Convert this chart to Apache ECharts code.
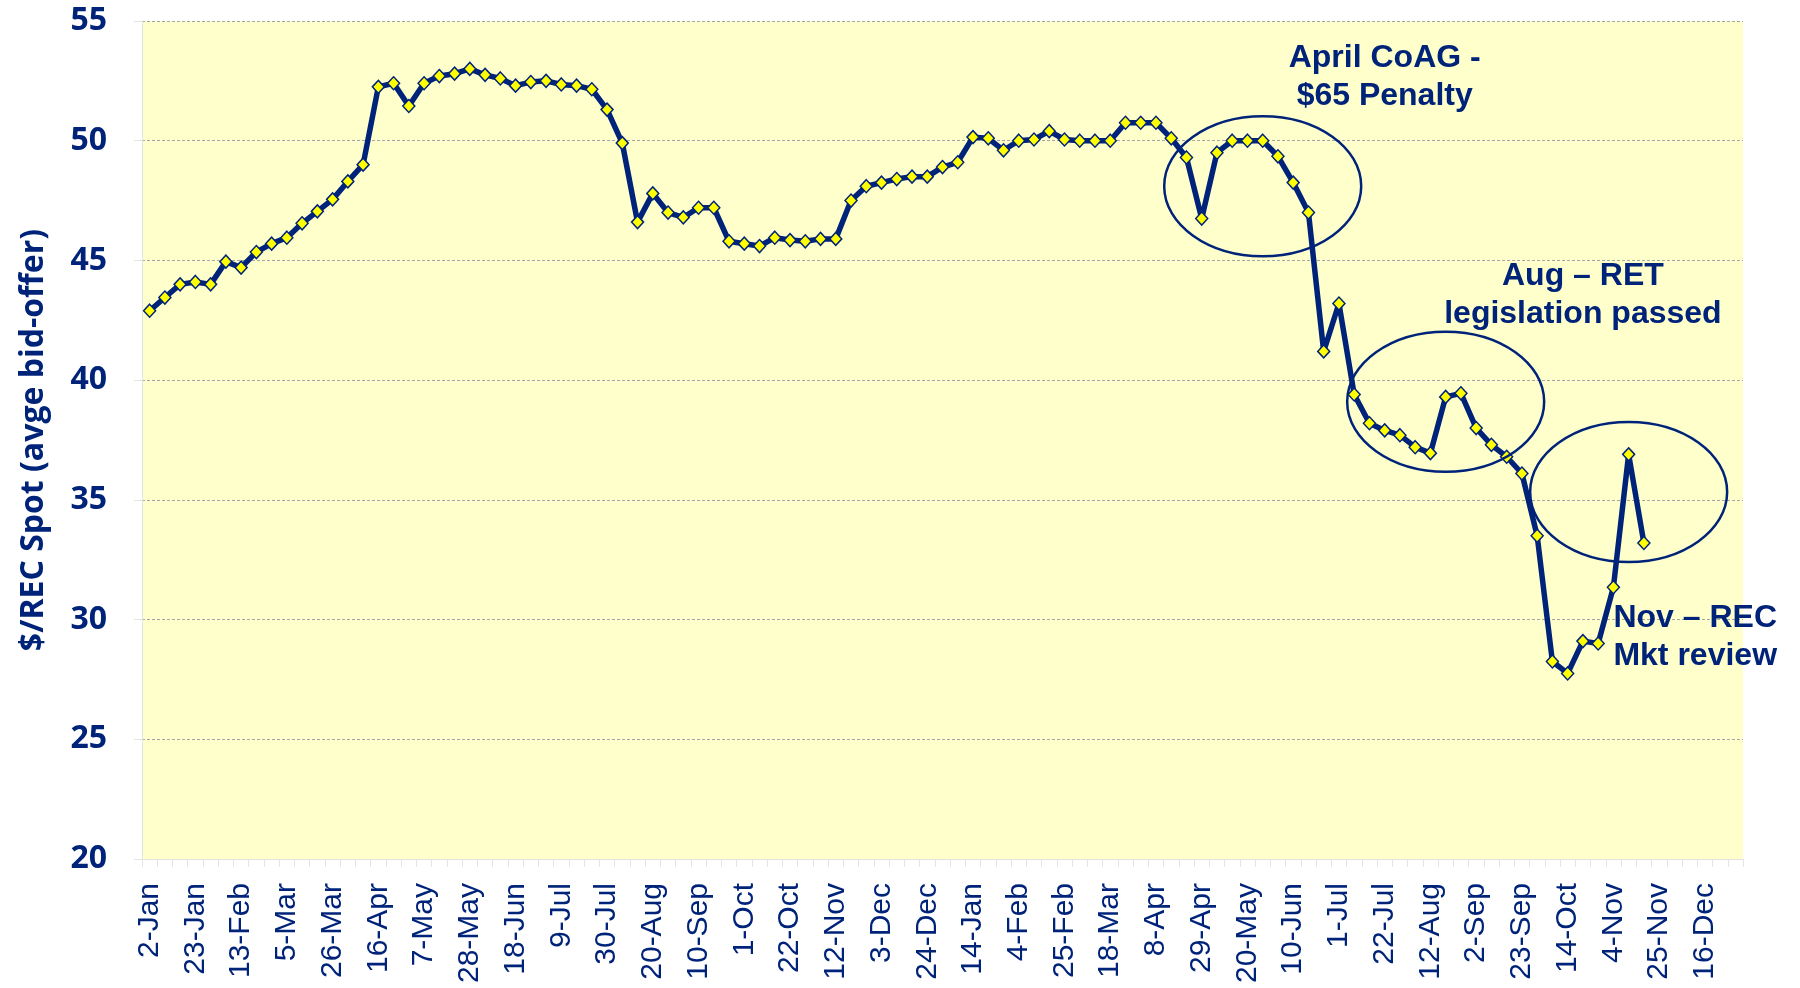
<!DOCTYPE html>
<html>
<head>
<meta charset="utf-8">
<script src="https://cdn.jsdelivr.net/npm/echarts@6/dist/echarts.min.js"></script>
<style>
    html, body { margin: 0; padding: 0; background: #ffffff; }
    #chart { width: 1800px; height: 988px; }
</style>
</head>
<body>
<div id="chart"></div>
<script>
// weekly categories, 2-Jan (2008) to 30-Dec (2009)
const weeks = [
    "2-Jan", "9-Jan", "16-Jan", "23-Jan", "30-Jan", "6-Feb", "13-Feb", "20-Feb", "27-Feb",
    "5-Mar", "12-Mar", "19-Mar", "26-Mar", "2-Apr", "9-Apr", "16-Apr", "23-Apr", "30-Apr",
    "7-May", "14-May", "21-May", "28-May", "4-Jun", "11-Jun", "18-Jun", "25-Jun",
    "2-Jul", "9-Jul", "16-Jul", "23-Jul", "30-Jul", "6-Aug", "13-Aug", "20-Aug", "27-Aug",
    "3-Sep", "10-Sep", "17-Sep", "24-Sep", "1-Oct", "8-Oct", "15-Oct", "22-Oct", "29-Oct",
    "5-Nov", "12-Nov", "19-Nov", "26-Nov", "3-Dec", "10-Dec", "17-Dec", "24-Dec", "31-Dec",
    "7-Jan", "14-Jan", "21-Jan", "28-Jan", "4-Feb", "11-Feb", "18-Feb", "25-Feb",
    "4-Mar", "11-Mar", "18-Mar", "25-Mar", "1-Apr", "8-Apr", "15-Apr", "22-Apr", "29-Apr",
    "6-May", "13-May", "20-May", "27-May", "3-Jun", "10-Jun", "17-Jun", "24-Jun",
    "1-Jul", "8-Jul", "15-Jul", "22-Jul", "29-Jul", "5-Aug", "12-Aug", "19-Aug", "26-Aug",
    "2-Sep", "9-Sep", "16-Sep", "23-Sep", "30-Sep", "7-Oct", "14-Oct", "21-Oct", "28-Oct",
    "4-Nov", "11-Nov", "18-Nov", "25-Nov", "2-Dec", "9-Dec", "16-Dec", "23-Dec", "30-Dec"
];

// $/REC spot price, average of bid and offer
const spot = [
    42.9, 43.45, 44.0, 44.1, 44.0, 44.95, 44.7, 45.35, 45.7, 45.95,
    46.55, 47.05, 47.55, 48.3, 49.0, 52.25, 52.4, 51.45, 52.4, 52.7,
    52.8, 53.0, 52.75, 52.6, 52.3, 52.45, 52.5, 52.35, 52.3, 52.15,
    51.3, 49.9, 46.6, 47.8, 47.0, 46.8, 47.2, 47.2, 45.8, 45.7,
    45.6, 45.95, 45.85, 45.8, 45.9, 45.9, 47.5, 48.1, 48.25, 48.4,
    48.5, 48.5, 48.9, 49.1, 50.15, 50.1, 49.6, 50.0, 50.05, 50.4,
    50.05, 50.0, 50.0, 50.0, 50.75, 50.75, 50.75, 50.1, 49.3, 46.75,
    49.5, 50.0, 50.0, 50.0, 49.35, 48.25, 47.0, 41.2, 43.2, 39.4,
    38.2, 37.9, 37.7, 37.2, 36.95, 39.3, 39.45, 38.0, 37.3, 36.8,
    36.1, 33.5, 28.25, 27.75, 29.1, 29.0, 31.35, 36.9, 33.2
];

const yTicks = [20, 25, 30, 35, 40, 45, 50, 55];

// annotation texts and the [week index, price] they sit on
const notes = [
    { text: "April CoAG -\n$65 Penalty", at: [80.7, 52.67], align: "center" },
    { text: "Aug \u2013 RET\nlegislation passed", at: [94.0, 43.56], align: "center" },
    { text: "Nov \u2013 REC\nMkt review", at: [96.0, 29.25], align: "left" },
];
// circled events: centre [week index, price]
const circles = [
    [72.5, 48.1],
    [84.9, 39.1],
    [96.9, 35.33],
];

const navy = "#00237a";

const chart = echarts.init(document.getElementById("chart"), null, { renderer: "canvas" });

chart.setOption({
    animation: false,
    grid: {
        left: 142,
        right: 57,
        top: 21,
        bottom: 129,
        show: true,
        backgroundColor: "#ffffcc",
        borderWidth: 0,
    },
    xAxis: {
        type: "category",
        data: weeks,
        boundaryGap: true,
        axisLine: { show: true, lineStyle: { color: "#e4e4e4", width: 1 } },
        axisTick: { show: true, interval: 0, length: 8, lineStyle: { color: "#e4e4e4" } },
        axisLabel: {
            interval: 2,
            rotate: 90,
            margin: 24,
            color: navy,
            fontFamily: "Liberation Sans, Arial, sans-serif",
            fontSize: 30,
        },
        splitLine: { show: false },
    },
    yAxis: {
        type: "value",
        min: yTicks[0],
        max: yTicks[yTicks.length - 1],
        interval: 5,
        name: "$/REC Spot (avge bid-offer)",
        nameLocation: "middle",
        nameRotate: 90,
        nameGap: 92,
        nameTextStyle: {
            color: navy,
            fontFamily: "Open Sans, sans-serif",
            fontWeight: "bold",
            fontSize: 32,
        },
        axisLine: { show: true, lineStyle: { color: "#e4e4e4" } },
        axisTick: { show: true, length: 8, lineStyle: { color: "#e4e4e4" } },
        axisLabel: {
            margin: 35,
            color: navy,
            fontFamily: "Open Sans, sans-serif",
            fontWeight: "bold",
            fontSize: 32,
        },
        splitLine: {
            show: true,
            lineStyle: { color: "#a6a6a6", type: [3, 2], width: 1 },
        },
    },
    series: [
        {
            name: "Spot",
            type: "line",
            data: spot,
            symbol: "diamond",
            symbolSize: [12, 13],
            showAllSymbol: true,
            lineStyle: { color: navy, width: 5.5 },
            itemStyle: { color: "#ffff00", borderColor: navy, borderWidth: 1.5 },
            z: 3,
        },
    ],
});

// annotations, placed from data coordinates
function placeNotes() {
    const graphic = [];
    circles.forEach((c) => {
        const p = chart.convertToPixel({ gridIndex: 0 }, c);
        graphic.push({
            type: "ellipse",
            shape: { cx: p[0], cy: p[1], rx: 98.5, ry: 70 },
            style: { fill: "none", stroke: navy, lineWidth: 2.5 },
            z: 10,
        });
    });
    notes.forEach((n) => {
        const p = chart.convertToPixel({ gridIndex: 0 }, n.at);
        graphic.push({
            type: "text",
            x: p[0],
            y: p[1],
            style: {
                text: n.text,
                fill: navy,
                font: "bold 32px 'Liberation Sans', Arial, sans-serif",
                lineHeight: 38,
                align: n.align,
                verticalAlign: "middle",
            },
            z: 11,
        });
    });
    chart.setOption({ graphic: graphic });
}

placeNotes();
</script>
</body>
</html>
